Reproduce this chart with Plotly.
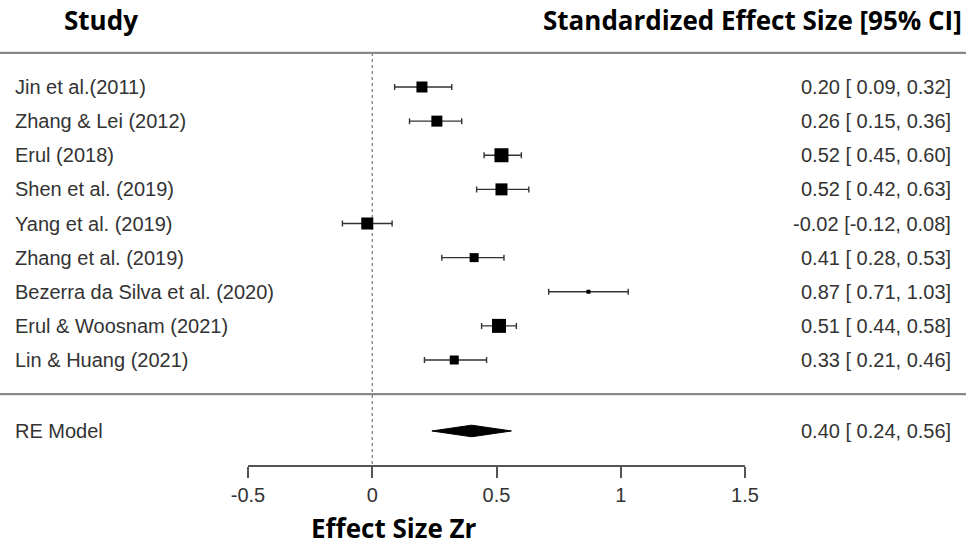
import plotly.graph_objects as go

studies = ["Jin et al.(2011)", "Zhang & Lei (2012)", "Erul (2018)", "Shen et al. (2019)",
           "Yang et al. (2019)", "Zhang et al. (2019)", "Bezerra da Silva et al. (2020)",
           "Erul & Woosnam (2021)", "Lin & Huang (2021)"]
est = [0.20, 0.26, 0.52, 0.52, -0.02, 0.41, 0.87, 0.51, 0.33]
lo = [0.09, 0.15, 0.45, 0.42, -0.12, 0.28, 0.71, 0.44, 0.21]
hi = [0.32, 0.36, 0.60, 0.63, 0.08, 0.53, 1.03, 0.58, 0.46]
weights = [11, 11, 14, 12, 12, 9, 4, 14, 9]  # marker size (px) ~ study weight
rows = [9, 8, 7, 6, 5, 4, 3, 2, 1]
re_label = "RE Model"
re_est, re_lo, re_hi = 0.40, 0.24, 0.56
re_row = -1.08
xticks = [-0.5, 0, 0.5, 1, 1.5]
xticklabels = ["-0.5", "0", "0.5", "1", "1.5"]

W, H = 966, 547
px_per_unit = 248.5
x0_px = 372.25
row_px = 34.125
row9_px = 87

def fmt(v):
    return f"{v:.2f}"

def ci_text(e, l, h):
    ls = fmt(l)
    ls = ls if l < 0 else " " + ls
    return f"{fmt(e)} [{ls}, {fmt(h)}]"

fig = go.Figure()

# axis-only trace for xaxis2 (added first so its subplot sits underneath)
fig.add_trace(go.Scatter(x=xticks, y=[re_row] * len(xticks), xaxis="x2", yaxis="y",
                         mode="markers", marker=dict(opacity=0), showlegend=False,
                         hoverinfo="skip"))

# reference dotted line at 0
fig.add_trace(go.Scatter(x=[0, 0], y=[10, -2.15], mode="lines",
                         line=dict(color="#777777", width=1.2, dash="dot"),
                         hoverinfo="skip", showlegend=False))

# study estimates with CIs
fig.add_trace(go.Scatter(
    x=est, y=rows, mode="markers",
    marker=dict(symbol="square", size=weights, color="black", opacity=1, line=dict(width=0)),
    error_x=dict(type="data", symmetric=False,
                 array=[h - e for e, h in zip(est, hi)],
                 arrayminus=[e - l for e, l in zip(est, lo)],
                 color="#333333", thickness=1.4, width=3),
    showlegend=False, hoverinfo="skip"))

# RE model diamond
dh = 0.17
fig.add_trace(go.Scatter(
    x=[re_lo, re_est, re_hi, re_est, re_lo],
    y=[re_row, re_row + dh, re_row, re_row - dh, re_row],
    mode="lines", fill="toself", fillcolor="black",
    line=dict(color="black", width=1), showlegend=False, hoverinfo="skip"))

txt_font = dict(family="Liberation Sans, Arial", size=20, color="#333333")
for s, r, e, l, h in zip(studies, rows, est, lo, hi):
    fig.add_annotation(x=13 / W, xref="paper", y=r, yref="y", text=s, showarrow=False,
                       xanchor="left", yanchor="middle", font=txt_font)
    fig.add_annotation(x=953 / W, xref="paper", y=r, yref="y", text=ci_text(e, l, h),
                       showarrow=False, xanchor="right", yanchor="middle", font=txt_font)
fig.add_annotation(x=13 / W, xref="paper", y=re_row, yref="y", text=re_label, showarrow=False,
                   xanchor="left", yanchor="middle", font=txt_font)
fig.add_annotation(x=953 / W, xref="paper", y=re_row, yref="y",
                   text=ci_text(re_est, re_lo, re_hi), showarrow=False,
                   xanchor="right", yanchor="middle", font=txt_font)

hdr_font = dict(family="Open Sans", size=26, color="black")
fig.add_annotation(x=101 / W, xref="paper", y=1 - 20 / H, yref="paper", text="<b>Study</b>",
                   showarrow=False, xanchor="center", yanchor="middle", font=hdr_font)
fig.add_annotation(x=964 / W, xref="paper", y=1 - 20 / H, yref="paper",
                   text="<b>Standardized Effect Size [95% CI]</b>",
                   showarrow=False, xanchor="right", yanchor="middle", font=hdr_font)
fig.add_annotation(x=394 / W, xref="paper", y=1 - 528 / H, yref="paper",
                   text="<b>Effect Size Zr</b>",
                   showarrow=False, xanchor="center", yanchor="middle", font=hdr_font)

# horizontal separators
for yv in [10, 0]:
    fig.add_shape(type="line", xref="paper", x0=0, x1=1, yref="y", y0=yv, y1=yv,
                  line=dict(color="#888888", width=2.2))

y_top = 9 + row9_px / row_px
y_bot = 9 - (H - row9_px) / row_px
x_left = -x0_px / px_per_unit
x_right = (W - x0_px) / px_per_unit

ax_left_px = x0_px + xticks[0] * px_per_unit
ax_right_px = x0_px + xticks[-1] * px_per_unit

fig.update_layout(
    width=W, height=H, margin=dict(l=0, r=0, t=0, b=0, autoexpand=False),
    paper_bgcolor="white", plot_bgcolor="rgba(0,0,0,0)",
    xaxis=dict(range=[x_left, x_right], visible=False, domain=[0, 1], automargin=False),
    xaxis2=dict(range=[xticks[0], xticks[-1]], domain=[ax_left_px / W, ax_right_px / W],
                anchor="free", position=1 - 466 / H, automargin=False,
                showline=True, linecolor="#555555", linewidth=1.5,
                ticks="outside", ticklen=11, tickwidth=1.5, tickcolor="#555555",
                tickvals=xticks, ticktext=xticklabels, showgrid=False, zeroline=False,
                tickfont=dict(family="Liberation Sans, Arial", size=20, color="#333333")),
    yaxis=dict(range=[y_bot, y_top], visible=False, automargin=False),
)

fig.write_html("out.html")
